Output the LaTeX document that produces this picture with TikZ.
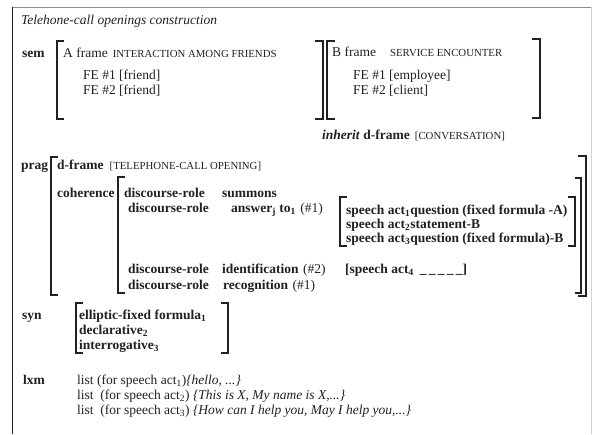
\documentclass[tikz,border=0pt]{standalone}
\usepackage{fontspec}
\setmainfont{Liberation Serif}
\definecolor{ink}{gray}{0.13}
\definecolor{framegray}{gray}{0.55}
\newcommand\capsx[1]{{\fontsize{10.8}{12}\selectfont #1}}
\begin{document}
\begin{tikzpicture}[x=1pt,y=-1pt,
  txt/.style={anchor=base west,inner sep=0pt,font=\fontsize{13.5}{15}\selectfont,text=ink},
  btxt/.style={txt,font=\fontsize{13.5}{15}\selectfont\bfseries},
  brk/.style={draw=ink,line width=1.1pt},
]
\useasboundingbox (0,0) rectangle (593,434);
\fill[white] (0,0) rectangle (593,434);
% outer frame
\draw[framegray,line width=0.8pt] (12,7) -- (591,7);
\draw[gray!35,line width=0.8pt] (591,7) -- (591,434);
\draw[ink,line width=1.6pt] (12.5,6.6) -- (12.5,434);

% title
\node[txt,font=\fontsize{13.5}{15}\selectfont\itshape] (title) at (21,24) {Telehone-call openings construction};

% sem
\node[btxt] (sem) at (22,57) {sem};
\draw[brk] (64,41) -- (57,41) -- (57,119) -- (64,119);
\draw[brk] (315,41) -- (323,41) -- (323,119) -- (315,119);
\draw[brk] (335,41) -- (327,41) -- (327,119) -- (335,119);
\draw[brk] (532,39) -- (540,39) -- (540,118) -- (532,118);
\node[txt] (aframe) at (63,57) {A frame\hspace{5pt}\capsx{INTERACTION AMONG FRIENDS}};
\node[txt] (fe1a) at (83,79.5) {FE \#1 [friend]};
\node[txt] (fe2a) at (83,94) {FE \#2 [friend]};
\node[txt] (bframe) at (332,56.5) {B frame\hspace{14pt}\capsx{SERVICE ENCOUNTER}};
\node[txt] (fe1b) at (353,79.5) {FE \#1 [employee]};
\node[txt] (fe2b) at (353,94) {FE \#2 [client]};
\node[txt] (inherit) at (322,139) {\textbf{\textit{inherit}} \textbf{d-frame}\hspace{5pt}\capsx{[CONVERSATION]}};

% prag
\node[btxt] (prag) at (21,169) {prag};
\draw[brk] (58,157) -- (51,157) -- (51,295) -- (58,295);
\draw[brk] (578,156) -- (586,156) -- (586,296) -- (578,296);
\node[txt] (dframe) at (57,169) {\textbf{d-frame}\hspace{6pt}\capsx{[TELEPHONE-CALL OPENING]}};
\node[btxt] (coh) at (57,197) {coherence};
\draw[brk] (125,177) -- (118,177) -- (118,293) -- (125,293);
\draw[brk] (575,178) -- (581,178) -- (581,293) -- (575,293);
\node[btxt] (dr1) at (124,197) {discourse-role};
\node[btxt] (summ) at (222,197) {summons};
\node[btxt] (dr2) at (128,212) {discourse-role};
\node[btxt] (answ) at (231,212) {answer\textsubscript{j} to\textsubscript{1}};
\node[txt] (n1a) at ([xshift=4pt]answ.base east) {(\#1)};
\draw[brk] (347,197) -- (340,197) -- (340,246) -- (347,246);
\draw[brk] (568,197) -- (575,197) -- (575,246) -- (568,246);
\node[btxt] (sa1) at (346,214) {speech act\textsubscript{1}question (fixed formula -A)};
\node[btxt] (sa2) at (346,228) {speech act\textsubscript{2}statement-B};
\node[btxt] (sa3) at (346,242) {speech act\textsubscript{3}question (fixed formula)-B};
\node[btxt] (dr3) at (128,273) {discourse-role};
\node[btxt] (ident) at (222,273) {identification};
\node[txt] (n2) at ([xshift=4pt]ident.base east) {(\#2)};
\node[btxt] (sa4) at (345,273) {[speech act\textsubscript{4}\hspace{6pt}\_\,\_\,\_\,\_\,\_]};
\node[btxt] (dr4) at (128,289) {discourse-role};
\node[btxt] (recog) at (223,289) {recognition};
\node[txt] (n1b) at ([xshift=4pt]recog.base east) {(\#1)};

% syn
\node[btxt] (syn) at (22,319) {syn};
\draw[brk] (83,303) -- (76,303) -- (76,353) -- (83,353);
\draw[brk] (221,303) -- (228,303) -- (228,353) -- (221,353);
\node[btxt] (syn1) at (79,319) {elliptic-fixed formula\textsubscript{1}};
\node[btxt] (syn2) at (79,334) {declarative\textsubscript{2}};
\node[btxt] (syn3) at (79,349) {interrogative\textsubscript{3}};

% lxm
\node[btxt] (lxm) at (23,384) {lxm};
\node[txt] (l1) at (77,384) {list (for speech act\textsubscript{1})\textit{\{hello, ...\}}};
\node[txt] (l2) at (77,399) {list\ \ (for speech act\textsubscript{2}) \textit{\{This is X, My name is X,...\}}};
\node[txt] (l3) at (77,414) {list\ \ (for speech act\textsubscript{3}) \textit{\{How can I help you, May I help you,...\}}};
\end{tikzpicture}
\end{document}
